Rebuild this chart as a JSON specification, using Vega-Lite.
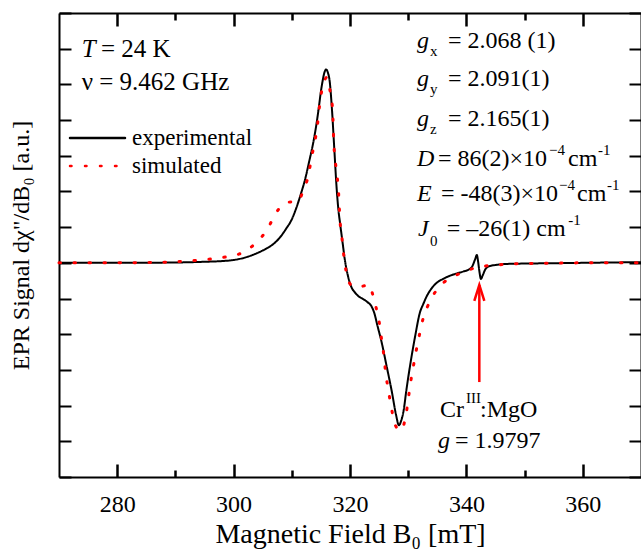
{
  "$schema": "https://vega.github.io/schema/vega-lite/v6.json",
  "autosize": {"type": "none"},
  "padding": {"left": 59, "top": 13, "right": 0, "bottom": 73},
  "width": 582,
  "height": 464,
  "background": "white",
  "config": {
    "view": {"stroke": null},
    "font": "Liberation Serif",
    "axis": {"grid": false, "domainColor": "black", "domainWidth": 2, "tickColor": "black", "tickWidth": 2}
  },
  "datasets": {
    "spectra": [
      {"B": 270, "signal": 0, "series": "experimental"},
      {"B": 280, "signal": 0, "series": "experimental"},
      {"B": 290, "signal": 0.01, "series": "experimental"},
      {"B": 295, "signal": 0.03, "series": "experimental"},
      {"B": 298, "signal": 0.05, "series": "experimental"},
      {"B": 300, "signal": 0.08, "series": "experimental"},
      {"B": 302, "signal": 0.15, "series": "experimental"},
      {"B": 304, "signal": 0.27, "series": "experimental"},
      {"B": 305.5, "signal": 0.39, "series": "experimental"},
      {"B": 307, "signal": 0.55, "series": "experimental"},
      {"B": 308, "signal": 0.72, "series": "experimental"},
      {"B": 309, "signal": 0.95, "series": "experimental"},
      {"B": 310, "signal": 1.22, "series": "experimental"},
      {"B": 310.8, "signal": 1.55, "series": "experimental"},
      {"B": 311.5, "signal": 1.9, "series": "experimental"},
      {"B": 312.3, "signal": 2.35, "series": "experimental"},
      {"B": 313, "signal": 2.85, "series": "experimental"},
      {"B": 313.7, "signal": 3.38, "series": "experimental"},
      {"B": 314.2, "signal": 3.85, "series": "experimental"},
      {"B": 314.6, "signal": 4.3, "series": "experimental"},
      {"B": 315, "signal": 4.8, "series": "experimental"},
      {"B": 315.3, "signal": 5.1, "series": "experimental"},
      {"B": 315.6, "signal": 5.33, "series": "experimental"},
      {"B": 315.9, "signal": 5.42, "series": "experimental"},
      {"B": 316.2, "signal": 5.33, "series": "experimental"},
      {"B": 316.5, "signal": 5.1, "series": "experimental"},
      {"B": 316.9, "signal": 4.3, "series": "experimental"},
      {"B": 317.3, "signal": 3.2, "series": "experimental"},
      {"B": 317.7, "signal": 2.1, "series": "experimental"},
      {"B": 318, "signal": 1.5, "series": "experimental"},
      {"B": 318.3, "signal": 1.1, "series": "experimental"},
      {"B": 318.7, "signal": 0.6, "series": "experimental"},
      {"B": 319.1, "signal": 0.1, "series": "experimental"},
      {"B": 319.7, "signal": -0.4, "series": "experimental"},
      {"B": 320.3, "signal": -0.7, "series": "experimental"},
      {"B": 320.8, "signal": -0.82, "series": "experimental"},
      {"B": 321.5, "signal": -0.94, "series": "experimental"},
      {"B": 322.3, "signal": -1.02, "series": "experimental"},
      {"B": 323, "signal": -1.1, "series": "experimental"},
      {"B": 323.7, "signal": -1.22, "series": "experimental"},
      {"B": 324.2, "signal": -1.42, "series": "experimental"},
      {"B": 324.7, "signal": -1.75, "series": "experimental"},
      {"B": 325.4, "signal": -2.2, "series": "experimental"},
      {"B": 326.3, "signal": -2.9, "series": "experimental"},
      {"B": 327.2, "signal": -3.62, "series": "experimental"},
      {"B": 327.9, "signal": -4.25, "series": "experimental"},
      {"B": 328.4, "signal": -4.55, "series": "experimental"},
      {"B": 328.8, "signal": -4.42, "series": "experimental"},
      {"B": 329.2, "signal": -4.15, "series": "experimental"},
      {"B": 329.7, "signal": -3.55, "series": "experimental"},
      {"B": 330.4, "signal": -2.8, "series": "experimental"},
      {"B": 331.2, "signal": -2.05, "series": "experimental"},
      {"B": 332, "signal": -1.4, "series": "experimental"},
      {"B": 332.6, "signal": -1.15, "series": "experimental"},
      {"B": 333.2, "signal": -0.93, "series": "experimental"},
      {"B": 334, "signal": -0.72, "series": "experimental"},
      {"B": 334.9, "signal": -0.56, "series": "experimental"},
      {"B": 336, "signal": -0.45, "series": "experimental"},
      {"B": 337.2, "signal": -0.36, "series": "experimental"},
      {"B": 338.5, "signal": -0.29, "series": "experimental"},
      {"B": 339.5, "signal": -0.24, "series": "experimental"},
      {"B": 340.5, "signal": -0.18, "series": "experimental"},
      {"B": 341, "signal": -0.1, "series": "experimental"},
      {"B": 341.5, "signal": 0.1, "series": "experimental"},
      {"B": 341.8, "signal": 0.22, "series": "experimental"},
      {"B": 342, "signal": 0.05, "series": "experimental"},
      {"B": 342.2, "signal": -0.2, "series": "experimental"},
      {"B": 342.5, "signal": -0.45, "series": "experimental"},
      {"B": 342.8, "signal": -0.35, "series": "experimental"},
      {"B": 343.3, "signal": -0.17, "series": "experimental"},
      {"B": 344, "signal": -0.09, "series": "experimental"},
      {"B": 345, "signal": -0.06, "series": "experimental"},
      {"B": 347, "signal": -0.03, "series": "experimental"},
      {"B": 350, "signal": -0.02, "series": "experimental"},
      {"B": 355, "signal": -0.01, "series": "experimental"},
      {"B": 360, "signal": 0, "series": "experimental"},
      {"B": 370, "signal": 0.02, "series": "experimental"},
      {"B": 270, "signal": 0, "series": "simulated"},
      {"B": 280, "signal": 0, "series": "simulated"},
      {"B": 285, "signal": 0.01, "series": "simulated"},
      {"B": 290, "signal": 0.03, "series": "simulated"},
      {"B": 295, "signal": 0.09, "series": "simulated"},
      {"B": 298, "signal": 0.15, "series": "simulated"},
      {"B": 301, "signal": 0.25, "series": "simulated"},
      {"B": 303, "signal": 0.44, "series": "simulated"},
      {"B": 304.8, "signal": 0.72, "series": "simulated"},
      {"B": 306, "signal": 1.0, "series": "simulated"},
      {"B": 307, "signal": 1.32, "series": "simulated"},
      {"B": 308.4, "signal": 1.62, "series": "simulated"},
      {"B": 309.5, "signal": 1.7, "series": "simulated"},
      {"B": 311, "signal": 1.72, "series": "simulated"},
      {"B": 312, "signal": 2.04, "series": "simulated"},
      {"B": 312.85, "signal": 2.45, "series": "simulated"},
      {"B": 313.4, "signal": 2.96, "series": "simulated"},
      {"B": 314, "signal": 3.43, "series": "simulated"},
      {"B": 314.4, "signal": 3.85, "series": "simulated"},
      {"B": 314.7, "signal": 4.31, "series": "simulated"},
      {"B": 315.1, "signal": 4.78, "series": "simulated"},
      {"B": 315.6, "signal": 5.1, "series": "simulated"},
      {"B": 316, "signal": 5.2, "series": "simulated"},
      {"B": 316.3, "signal": 5.1, "series": "simulated"},
      {"B": 316.6, "signal": 4.78, "series": "simulated"},
      {"B": 317, "signal": 4.31, "series": "simulated"},
      {"B": 317.2, "signal": 3.43, "series": "simulated"},
      {"B": 317.7, "signal": 2.54, "series": "simulated"},
      {"B": 318, "signal": 2.07, "series": "simulated"},
      {"B": 318.3, "signal": 1.14, "series": "simulated"},
      {"B": 318.6, "signal": 0.72, "series": "simulated"},
      {"B": 318.9, "signal": 0.25, "series": "simulated"},
      {"B": 319.3, "signal": -0.21, "series": "simulated"},
      {"B": 320, "signal": -0.59, "series": "simulated"},
      {"B": 320.6, "signal": -0.66, "series": "simulated"},
      {"B": 321.2, "signal": -0.68, "series": "simulated"},
      {"B": 322, "signal": -0.66, "series": "simulated"},
      {"B": 322.8, "signal": -0.63, "series": "simulated"},
      {"B": 323.3, "signal": -0.62, "series": "simulated"},
      {"B": 323.7, "signal": -0.78, "series": "simulated"},
      {"B": 324.4, "signal": -1.2, "series": "simulated"},
      {"B": 325, "signal": -1.64, "series": "simulated"},
      {"B": 325.4, "signal": -2.11, "series": "simulated"},
      {"B": 325.8, "signal": -2.58, "series": "simulated"},
      {"B": 326.1, "signal": -3.04, "series": "simulated"},
      {"B": 326.7, "signal": -3.67, "series": "simulated"},
      {"B": 327.2, "signal": -4.14, "series": "simulated"},
      {"B": 327.7, "signal": -4.51, "series": "simulated"},
      {"B": 328.3, "signal": -4.66, "series": "simulated"},
      {"B": 328.9, "signal": -4.7, "series": "simulated"},
      {"B": 329.3, "signal": -4.5, "series": "simulated"},
      {"B": 329.6, "signal": -4.28, "series": "simulated"},
      {"B": 330, "signal": -3.83, "series": "simulated"},
      {"B": 330.4, "signal": -3.36, "series": "simulated"},
      {"B": 330.9, "signal": -2.89, "series": "simulated"},
      {"B": 331.4, "signal": -2.44, "series": "simulated"},
      {"B": 331.9, "signal": -2.04, "series": "simulated"},
      {"B": 332.5, "signal": -1.6, "series": "simulated"},
      {"B": 333.3, "signal": -1.23, "series": "simulated"},
      {"B": 334, "signal": -0.99, "series": "simulated"},
      {"B": 335.2, "signal": -0.7, "series": "simulated"},
      {"B": 336.5, "signal": -0.5, "series": "simulated"},
      {"B": 338, "signal": -0.36, "series": "simulated"},
      {"B": 339.5, "signal": -0.26, "series": "simulated"},
      {"B": 341.5, "signal": -0.14, "series": "simulated"},
      {"B": 344.3, "signal": -0.07, "series": "simulated"},
      {"B": 347, "signal": -0.04, "series": "simulated"},
      {"B": 350, "signal": -0.02, "series": "simulated"},
      {"B": 355, "signal": -0.01, "series": "simulated"},
      {"B": 360, "signal": 0, "series": "simulated"},
      {"B": 370, "signal": 0, "series": "simulated"}
    ]
  },
  "resolve": {"axis": {"x": "independent", "y": "independent"}},
  "layer": [
    {
      "data": {"name": "spectra"},
      "transform": [{"filter": "datum.series === 'experimental'"}],
      "mark": {"type": "line", "interpolate": "monotone", "strokeWidth": 2},
      "encoding": {
        "x": {"field": "B", "type": "quantitative", "scale": {"domain": [270, 370], "nice": false, "zero": false},
          "axis": {"orient": "bottom", "values": [280, 300, 320, 340, 360], "tickSize": -13, "tickWidth": 2.5, "tickColor": "#000000", "tickOpacity": 1, "labelFont": "Liberation Serif", "labelFontSize": 24, "labelColor": "black", "labelPadding": 28, "title": "Magnetic Field B₀ [mT]", "titleFont": "Liberation Serif", "titleFontSize": 28, "titleFontWeight": "normal", "titleColor": "black", "titlePadding": 4}},
        "y": {"field": "signal", "type": "quantitative", "scale": {"domain": [-6, 7], "nice": false, "zero": false},
          "axis": {"orient": "left", "values": [-6, -5, -4, -3, -2, -1, 0, 1, 2, 3, 4, 5, 6, 7], "tickSize": -12, "labels": false, "title": "EPR Signal dχ\"/dB₀ [a.u.]", "titleFont": "Liberation Serif", "titleFontSize": 24, "titleFontWeight": "normal", "titleColor": "black", "titlePadding": 25}},
        "color": {"field": "series", "type": "nominal", "scale": {"domain": ["experimental", "simulated"], "range": ["#000000", "#ff0000"]},
          "legend": {"orient": "none", "legendX": 26, "legendY": 112.5, "title": null, "symbolType": "M-2.5,0L2.5,0", "symbolSize": 484, "symbolStrokeWidth": 2.5, "labelFont": "Liberation Serif", "labelFontSize": 23, "labelColor": "black", "labelOffset": 22, "rowPadding": 3, "padding": 0,
            "encode": {"symbols": {"update": {"strokeCap": {"value": "round"}}}}}},
        "strokeDash": {"field": "series", "type": "nominal", "scale": {"domain": ["experimental", "simulated"], "range": [[1, 0], [1.5, 13.5]]},
          "legend": {"orient": "none", "legendX": 26, "legendY": 112.5, "title": null, "symbolType": "M-2.5,0L2.5,0", "symbolSize": 484, "symbolStrokeWidth": 2.5, "labelFont": "Liberation Serif", "labelFontSize": 23, "labelColor": "black", "labelOffset": 22, "rowPadding": 3, "padding": 0,
            "encode": {"symbols": {"update": {"strokeCap": {"value": "round"}}}}}}
      }
    },
    {
      "data": {"name": "spectra"},
      "transform": [{"filter": "datum.series === 'simulated'"}],
      "mark": {"type": "line", "interpolate": "monotone", "strokeWidth": 3, "strokeCap": "round"},
      "encoding": {
        "x": {"field": "B", "type": "quantitative", "scale": {"domain": [270, 370], "nice": false, "zero": false},
          "axis": {"orient": "top", "values": [280, 300, 320, 340, 360], "tickSize": -13, "tickWidth": 2.5, "tickColor": "#000000", "tickOpacity": 1, "labels": false, "title": null}},
        "y": {"field": "signal", "type": "quantitative", "scale": {"domain": [-6, 7], "nice": false, "zero": false},
          "axis": {"orient": "right", "values": [-6, -5, -4, -3, -2, -1, 0, 1, 2, 3, 4, 5, 6, 7], "tickSize": -12, "labels": false, "title": null}},
        "color": {"field": "series", "type": "nominal", "scale": {"domain": ["experimental", "simulated"], "range": ["#000000", "#ff0000"]},
          "legend": {"orient": "none", "legendX": 26, "legendY": 112.5, "title": null, "symbolType": "M-2.5,0L2.5,0", "symbolSize": 484, "symbolStrokeWidth": 2.5, "labelFont": "Liberation Serif", "labelFontSize": 23, "labelColor": "black", "labelOffset": 22, "rowPadding": 3, "padding": 0,
            "encode": {"symbols": {"update": {"strokeCap": {"value": "round"}}}}}},
        "strokeDash": {"field": "series", "type": "nominal", "scale": {"domain": ["experimental", "simulated"], "range": [[1, 0], [1.5, 13.5]]},
          "legend": {"orient": "none", "legendX": 26, "legendY": 112.5, "title": null, "symbolType": "M-2.5,0L2.5,0", "symbolSize": 484, "symbolStrokeWidth": 2.5, "labelFont": "Liberation Serif", "labelFontSize": 23, "labelColor": "black", "labelOffset": 22, "rowPadding": 3, "padding": 0,
            "encode": {"symbols": {"update": {"strokeCap": {"value": "round"}}}}}}
      }
    },
    {
      "data": {"values": [
        {"x": 273.9, "y": 5.776, "t": "T"}
      ]},
      "mark": {"type": "text", "align": "left", "baseline": "alphabetic", "font": "Liberation Serif", "fontSize": 25, "fontStyle": "italic", "color": "black"},
      "encoding": {
        "x": {"field": "x", "type": "quantitative", "scale": {"domain": [270, 370], "nice": false, "zero": false}, "axis": null},
        "y": {"field": "y", "type": "quantitative", "scale": {"domain": [-6, 7], "nice": false, "zero": false}, "axis": null},
        "text": {"field": "t"}
      }
    },
    {
      "data": {"values": [
        {"x": 277.2, "y": 5.776, "t": "= 24 K"},
        {"x": 273.9, "y": 4.843, "t": "ν = 9.462 GHz"}
      ]},
      "mark": {"type": "text", "align": "left", "baseline": "alphabetic", "font": "Liberation Serif", "fontSize": 25, "color": "black"},
      "encoding": {
        "x": {"field": "x", "type": "quantitative", "scale": {"domain": [270, 370], "nice": false, "zero": false}, "axis": null},
        "y": {"field": "y", "type": "quantitative", "scale": {"domain": [-6, 7], "nice": false, "zero": false}, "axis": null},
        "text": {"field": "t"}
      }
    },
    {
      "data": {"values": [
        {"x": 331.51, "y": 6.019, "t": "g"},
        {"x": 331.51, "y": 4.955, "t": "g"},
        {"x": 331.51, "y": 3.834, "t": "g"},
        {"x": 331.51, "y": 2.713, "t": "D"},
        {"x": 331.51, "y": 1.733, "t": "E"},
        {"x": 331.68, "y": 0.752, "t": "J"},
        {"x": 335.12, "y": -5.188, "t": "g"}
      ]},
      "mark": {"type": "text", "align": "left", "baseline": "alphabetic", "font": "Liberation Serif", "fontSize": 24, "fontStyle": "italic", "color": "black"},
      "encoding": {
        "x": {"field": "x", "type": "quantitative", "scale": {"domain": [270, 370], "nice": false, "zero": false},
          "axis": {"orient": "top", "values": [290, 310, 330, 350], "tickSize": -7, "tickWidth": 2.5, "tickColor": "#000000", "tickOpacity": 1, "labels": false, "domain": false, "title": null}},
        "y": {"field": "y", "type": "quantitative", "scale": {"domain": [-6, 7], "nice": false, "zero": false}, "axis": null},
        "text": {"field": "t"}
      }
    },
    {
      "data": {"values": [
        {"x": 336.84, "y": 6.019, "t": "= 2.068 (1)"},
        {"x": 336.84, "y": 4.955, "t": "= 2.091(1)"},
        {"x": 336.84, "y": 3.834, "t": "= 2.165(1)"},
        {"x": 335.12, "y": 2.713, "t": "= 86(2)×10"},
        {"x": 357.46, "y": 2.713, "t": "cm"},
        {"x": 335.64, "y": 1.733, "t": "= -48(3)×10"},
        {"x": 359.0, "y": 1.733, "t": "cm"},
        {"x": 336.62, "y": 0.752, "t": "= –26(1) cm"},
        {"x": 335.46, "y": -4.319, "t": "Cr"},
        {"x": 342.34, "y": -4.319, "t": ":MgO"},
        {"x": 338.04, "y": -5.188, "t": "= 1.9797"}
      ]},
      "mark": {"type": "text", "align": "left", "baseline": "alphabetic", "font": "Liberation Serif", "fontSize": 24, "color": "black"},
      "encoding": {
        "x": {"field": "x", "type": "quantitative", "scale": {"domain": [270, 370], "nice": false, "zero": false},
          "axis": {"orient": "bottom", "values": [290, 310, 330, 350], "tickSize": -7, "tickWidth": 2.5, "tickColor": "#000000", "tickOpacity": 1, "labels": false, "domain": false, "title": null}},
        "y": {"field": "y", "type": "quantitative", "scale": {"domain": [-6, 7], "nice": false, "zero": false}, "axis": null},
        "text": {"field": "t"}
      }
    },
    {
      "data": {"values": [
        {"x": 333.75, "y": 5.795, "t": "x"},
        {"x": 333.75, "y": 4.731, "t": "y"},
        {"x": 333.75, "y": 3.61, "t": "z"},
        {"x": 354.19, "y": 3.022, "t": "−4"},
        {"x": 362.61, "y": 3.022, "t": "-1"},
        {"x": 355.91, "y": 2.041, "t": "−4"},
        {"x": 364.16, "y": 2.041, "t": "-1"},
        {"x": 333.75, "y": 0.472, "t": "0"},
        {"x": 357.5, "y": 1.06, "t": "-1"},
        {"x": 339.93, "y": -3.927, "t": "III"}
      ]},
      "mark": {"type": "text", "align": "left", "baseline": "alphabetic", "font": "Liberation Serif", "fontSize": 15, "color": "black"},
      "encoding": {
        "x": {"field": "x", "type": "quantitative", "scale": {"domain": [270, 370], "nice": false, "zero": false}, "axis": null},
        "y": {"field": "y", "type": "quantitative", "scale": {"domain": [-6, 7], "nice": false, "zero": false}, "axis": null},
        "text": {"field": "t"}
      }
    },
    {
      "data": {"values": [
        {"x": 342.22, "y": -0.62, "y2": -3.34}
      ]},
      "mark": {"type": "rule", "color": "#ff0000", "strokeWidth": 2.5},
      "encoding": {
        "x": {"field": "x", "type": "quantitative", "scale": {"domain": [270, 370], "nice": false, "zero": false}, "axis": null},
        "y": {"field": "y", "type": "quantitative", "scale": {"domain": [-6, 7], "nice": false, "zero": false}, "axis": null},
        "y2": {"field": "y2"}
      }
    },
    {
      "data": {"values": [
        {"x": 342.22, "y": -0.62}
      ]},
      "mark": {"type": "point", "shape": "M-1,3.2L0,0L1,3.2", "size": 100, "filled": false, "color": "#ff0000", "strokeWidth": 2.5, "opacity": 1},
      "encoding": {
        "x": {"field": "x", "type": "quantitative", "scale": {"domain": [270, 370], "nice": false, "zero": false}, "axis": null},
        "y": {"field": "y", "type": "quantitative", "scale": {"domain": [-6, 7], "nice": false, "zero": false}, "axis": null}
      }
    }
  ]
}
